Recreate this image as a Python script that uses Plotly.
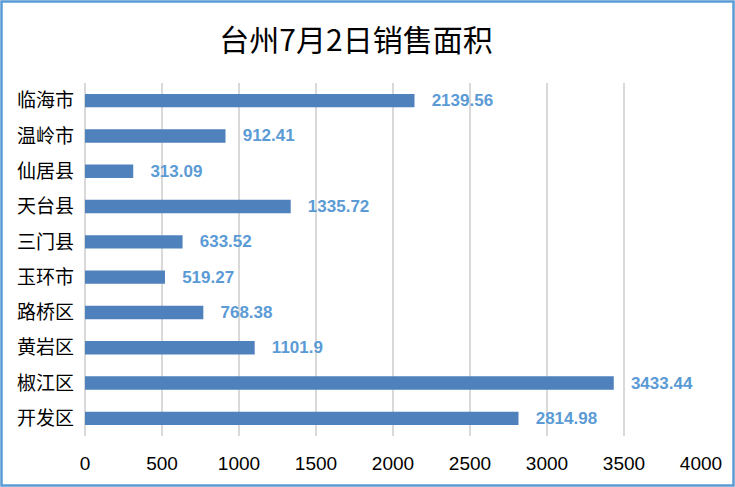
import plotly.graph_objects as go

categories = ["临海市", "温岭市", "仙居县", "天台县", "三门县", "玉环市", "路桥区", "黄岩区", "椒江区", "开发区"]
values = [2139.56, 912.41, 313.09, 1335.72, 633.52, 519.27, 768.38, 1101.9, 3433.44, 2814.98]
value_labels = ["2139.56", "912.41", "313.09", "1335.72", "633.52", "519.27", "768.38", "1101.9", "3433.44", "2814.98"]
x_ticks = [0, 500, 1000, 1500, 2000, 2500, 3000, 3500, 4000]

W, H = 735, 487
L, R, T, B = 85, 34, 83, 51
pw, ph = W - L - R, H - T - B

fig = go.Figure(go.Bar(
    y=categories, x=values, orientation="h",
    marker=dict(color="#4f81bd", line=dict(width=0)),
    text=["   " + s for s in value_labels],
    textposition="outside",
    constraintext="none",
    textfont=dict(family="Liberation Sans Narrow, Liberation Sans, Arial", size=17, color="#5b9bd5"),
    texttemplate="<b>%{text}</b>",
    cliponaxis=False,
))

fig.update_layout(
    width=W, height=H,
    margin=dict(l=L, r=R, t=T, b=B),
    paper_bgcolor="white", plot_bgcolor="white",
    bargap=0.62,
    showlegend=False,
    title=dict(text="台州7月2日销售面积", x=356 / W, xref="container", xanchor="center",
               y=1 - 40 / H, yref="container", yanchor="middle",
               font=dict(family="Noto Sans CJK SC", size=30, color="#000000")),
    xaxis=dict(range=[0, 4000], tickvals=x_ticks, showgrid=True, gridcolor="#d9d9d9",
               gridwidth=1.5, zeroline=True, zerolinecolor="#d9d9d9", zerolinewidth=1.5,
               showline=False, ticks="", ticklabelstandoff=14,
               tickfont=dict(family="Liberation Sans Narrow, Liberation Sans, Arial", size=19, color="#000000")),
    yaxis=dict(autorange="reversed", showgrid=False, showline=False, ticks="",
               ticklabelstandoff=10,
               tickfont=dict(family="Noto Sans CJK SC", size=19, color="#000000")),
    shapes=[dict(type="rect", xref="paper", yref="paper",
                 x0=(1.5 - L) / pw, x1=(W - 1.5 - L) / pw,
                 y0=(T + ph - (H - 1.5)) / ph,
                 y1=(T + ph - 1.5) / ph,
                 line=dict(color="#5b9bd5", width=2.5), layer="above")],
)

fig.write_html("out.html")
